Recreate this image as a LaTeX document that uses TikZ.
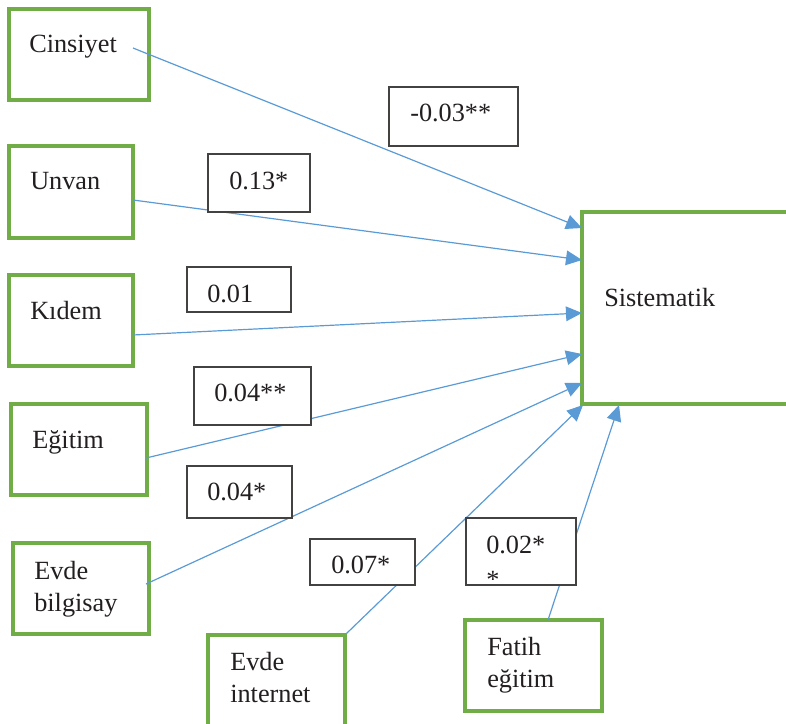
\documentclass[tikz,border=0pt]{standalone}
\usepackage{fontspec}
\setmainfont{Liberation Serif}
\usetikzlibrary{arrows.meta,fit}
\definecolor{boxgreen}{HTML}{70AD47}
\definecolor{linkblue}{HTML}{5B9BD5}
\definecolor{inkgray}{HTML}{231F20}

\begin{document}
\begin{tikzpicture}[x=0.75pt,y=-0.75pt,
  varbox/.style={draw=boxgreen, line width=2.3pt, inner sep=0pt, fill=white},
  coefbox/.style={draw=inkgray!85, line width=0.9pt, inner sep=0pt, fill=white},
  txt/.style={anchor=base west, inner sep=0pt, text=inkgray,
              font=\fontsize{19.7pt}{23.6pt}\selectfont},
  link/.style={draw=linkblue, line width=0.9pt,
               -{Triangle[length=12pt,width=11pt]}}]

\useasboundingbox (0,0) rectangle (786,724);
\clip (0,0) rectangle (786,724);

% variable boxes
\node[varbox, fit={(9,9) (149,100)}]     (cins) {};
\node[varbox, fit={(9,146) (133,238)}]   (unvan) {};
\node[varbox, fit={(9,275) (133,366)}]   (kidem) {};
\node[varbox, fit={(11,404) (147,495)}]  (egit) {};
\node[varbox, fit={(13,543) (149,634)}]  (bilg) {};
\node[varbox, fit={(208,635) (345,740)}] (inet) {};
\node[varbox, fit={(465,620) (602,711)}] (fatih) {};
\node[varbox, fit={(582,212) (800,404)}] (sis) {};

% connector end points
\coordinate (cins-out)  at (133,48);
\coordinate (unvan-out) at (133,200);
\coordinate (kidem-out) at (133,335);
\coordinate (egit-out)  at (146,458);
\coordinate (bilg-out)  at (146,584);
\coordinate (fatih-out) at (548,620);
\coordinate (sis-in1) at (582,228);
\coordinate (sis-in2) at (582,260);
\coordinate (sis-in3) at (582,313);
\coordinate (sis-in4) at (582,354);
\coordinate (sis-in5) at (582,383);
\coordinate (sis-in6) at (583,405);
\coordinate (sis-in7) at (619,405);

% paths into Sistematik
\draw[link] (cins-out)  -- (sis-in1);
\draw[link] (unvan-out) -- (sis-in2);
\draw[link] (kidem-out) -- (sis-in3);
\draw[link] (egit-out)  -- (sis-in4);
\draw[link] (bilg-out)  -- (sis-in5);
\draw[link] (inet.north east) -- (sis-in6);
\draw[link] (fatih-out) -- (sis-in7);

% coefficient boxes
\node[coefbox, fit={(389,87) (518,146)}]  (k1) {};
\node[coefbox, fit={(208,154) (310,212)}] (k2) {};
\node[coefbox, fit={(187,267) (291,312)}] (k3) {};
\node[coefbox, fit={(194,367) (311,425)}] (k4) {};
\node[coefbox, fit={(187,466) (292,518)}] (k5) {};
\node[coefbox, fit={(310,539) (415,585)}] (k6) {};
\node[coefbox, fit={(466,518) (576,585)}] (k7) {};

% coefficient texts
\node[txt] (t1) at (410,122) {-0.03**};
\node[txt] (t2) at (229,189) {0.13*};
\node[txt] (t3) at (207,302) {0.01};
\node[txt] (t4) at (214,401) {0.04**};
\node[txt] (t5) at (207,500) {0.04*};
\node[txt] (t6) at (331,573) {0.07*};
\node[txt] (t7) at (486,553) {0.02*};
\begin{scope}
  \clip (470,555) rectangle (520,579);
  \node[txt] (t7b) at (486,588) {*};
\end{scope}

% variable names
\node[txt] (n1)  at (29,53)   {Cinsiyet};
\node[txt] (n2)  at (30,190)  {Unvan};
\node[txt] (n3)  at (30,319)  {Kıdem};
\node[txt] (n4)  at (32,448)  {Eğitim};
\node[txt] (n5a) at (34,579)  {Evde};
\node[txt] (n5b) at (34,611)  {bilgisay};
\node[txt] (n6a) at (230,670) {Evde};
\node[txt] (n6b) at (230,702) {internet};
\node[txt] (n7a) at (487,655) {Fatih};
\node[txt] (n7b) at (487,687) {eğitim};
\node[txt] (n8)  at (604,306) {Sistematik};
\end{tikzpicture}
\end{document}
